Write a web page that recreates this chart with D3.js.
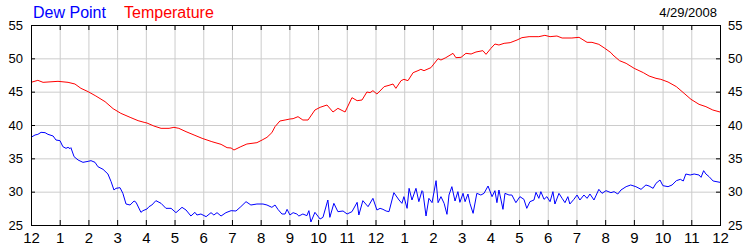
<!DOCTYPE html>
<html>
<head>
<meta charset="utf-8">
<title>Dew Point and Temperature</title>
<script src="https://d3js.org/d3.v7.min.js"></script>
<style>
    body { margin: 0; background: #fff; }
    svg { display: block; font-family: Arial, "Liberation Sans", sans-serif; }
    .grid line { stroke: #cccccc; stroke-width: 1; }
    .axis text { fill: #000; }
    .axis line { stroke: #000; }
</style>
</head>
<body>
<svg id="chart" width="750" height="250"></svg>
<script>
// readings: hour of day (0 = midnight) and degrees F
var tempHours = [0.00, 0.24, 0.42, 0.94, 1.29, 1.53, 1.74, 1.99, 2.26, 2.58, 2.86, 3.13, 3.48, 3.73, 3.94, 4.04,
    4.28, 4.53, 4.81, 4.98, 5.15, 5.40, 5.68, 5.96, 6.30, 6.62, 6.83, 6.97, 7.07, 7.31, 7.52, 7.87,
    8.05, 8.22, 8.39, 8.50, 8.67, 8.85, 9.02, 9.13, 9.30, 9.47, 9.65, 9.89, 10.07, 10.31, 10.52, 10.69,
    10.94, 11.18, 11.36, 11.53, 11.70, 11.81, 11.91, 12.05, 12.19, 12.30, 12.47, 12.61, 12.71, 12.89, 12.99, 13.13,
    13.31, 13.48, 13.58, 13.69, 13.93, 14.18, 14.28, 14.45, 14.70, 14.80, 14.98, 15.15, 15.33, 15.50, 15.74, 15.85,
    16.02, 16.16, 16.30, 16.48, 16.69, 16.93, 17.10, 17.35, 17.69, 17.90, 18.08, 18.32, 18.50, 18.84, 19.09, 19.37,
    19.54, 19.78, 19.99, 20.20, 20.27, 20.50, 20.73, 21.01, 21.33, 21.53, 21.77, 21.94, 22.19, 22.48, 22.75, 22.99,
    23.27, 23.51, 23.75, 24.00];
var tempValues = [46.4, 46.7, 46.4, 46.55, 46.4, 46.15, 45.5, 45.0, 44.35, 43.5, 42.45, 41.75, 41.1, 40.65, 40.4, 40.3,
    39.85, 39.5, 39.5, 39.65, 39.5, 39.0, 38.5, 38.0, 37.5, 37.1, 36.6, 36.55, 36.25, 36.75, 37.15, 37.35,
    37.75, 38.15, 38.85, 39.75, 40.6, 40.75, 40.9, 40.95, 41.25, 40.75, 40.75, 42.25, 42.65, 43.0, 41.95, 42.5,
    41.95, 44.1, 43.65, 43.75, 44.95, 44.85, 45.15, 44.65, 45.25, 45.75, 45.95, 46.15, 45.5, 46.65, 46.85, 46.65,
    47.85, 48.15, 48.35, 48.15, 48.6, 49.95, 49.75, 50.1, 50.75, 50.1, 50.15, 50.75, 50.65, 50.95, 51.15, 50.6,
    51.5, 52.15, 52.0, 52.25, 52.35, 52.75, 53.1, 53.25, 53.25, 53.45, 53.25, 53.35, 53.05, 53.05, 53.15, 52.4,
    52.4, 52.1, 51.5, 50.85, 50.5, 49.65, 49.25, 48.5, 47.85, 47.35, 47.0, 46.85, 46.45, 45.75, 44.75, 43.85,
    43.1, 42.75, 42.25, 41.95];

var dewHours = [0.00, 0.14, 0.24, 0.35, 0.49, 0.59, 0.77, 0.87, 1.01, 1.11, 1.22, 1.29, 1.36, 1.39, 1.50, 1.64,
    1.81, 1.99, 2.09, 2.23, 2.33, 2.51, 2.68, 2.79, 2.89, 2.96, 3.10, 3.20, 3.31, 3.45, 3.59, 3.66,
    3.83, 3.90, 4.04, 4.11, 4.21, 4.35, 4.53, 4.70, 4.88, 5.05, 5.26, 5.40, 5.57, 5.71, 5.78, 5.92,
    6.10, 6.27, 6.37, 6.48, 6.62, 6.79, 6.97, 7.14, 7.31, 7.49, 7.66, 7.87, 8.08, 8.22, 8.39, 8.50,
    8.60, 8.74, 8.85, 8.92, 9.02, 9.13, 9.26, 9.33, 9.47, 9.61, 9.68, 9.75, 9.89, 10.07, 10.17, 10.34,
    10.41, 10.55, 10.69, 10.87, 11.01, 11.18, 11.36, 11.42, 11.56, 11.74, 11.91, 12.05, 12.16, 12.26, 12.37, 12.47,
    12.64, 12.82, 12.92, 12.99, 13.10, 13.17, 13.27, 13.41, 13.51, 13.62, 13.65, 13.76, 13.86, 13.97, 14.11, 14.18,
    14.28, 14.39, 14.49, 14.56, 14.66, 14.77, 14.87, 14.94, 15.05, 15.12, 15.22, 15.29, 15.40, 15.53, 15.67, 15.78,
    15.92, 16.06, 16.16, 16.23, 16.30, 16.44, 16.51, 16.65, 16.75, 16.89, 17.03, 17.17, 17.27, 17.38, 17.52, 17.59,
    17.69, 17.76, 17.87, 17.97, 18.08, 18.18, 18.25, 18.39, 18.50, 18.60, 18.70, 18.77, 18.91, 19.02, 19.12, 19.26,
    19.37, 19.47, 19.61, 19.78, 19.89, 20.03, 20.20, 20.31, 20.44, 20.55, 20.73, 20.89, 21.07, 21.25, 21.42, 21.53,
    21.67, 21.77, 21.91, 22.01, 22.19, 22.33, 22.48, 22.62, 22.72, 22.81, 22.96, 23.10, 23.27, 23.34, 23.43, 23.51,
    23.62, 23.76, 24.00];
var dewValues = [38.15, 38.5, 38.6, 38.9, 38.85, 38.6, 38.35, 37.75, 37.65, 36.75, 36.5, 36.65, 36.45, 36.6, 35.25, 34.75,
    34.4, 34.55, 34.65, 34.4, 33.75, 33.35, 32.65, 31.5, 30.25, 30.5, 30.6, 29.75, 28.15, 28.0, 28.6, 28.4,
    26.9, 27.15, 27.4, 27.75, 28.0, 28.65, 28.25, 27.5, 27.5, 26.85, 27.65, 27.25, 26.35, 26.9, 26.5, 26.65,
    26.25, 26.85, 26.5, 26.85, 26.35, 26.85, 27.15, 27.1, 27.75, 28.5, 28.0, 28.15, 28.15, 28.0, 27.65, 28.0,
    27.35, 26.65, 26.65, 27.35, 26.5, 26.85, 26.65, 26.35, 26.65, 26.4, 27.15, 25.45, 26.9, 25.9, 26.15, 28.75,
    26.15, 28.25, 27.0, 27.1, 26.65, 27.0, 28.4, 26.5, 28.65, 27.75, 29.0, 27.25, 27.5, 27.35, 27.1, 27.0,
    29.85, 28.75, 28.25, 29.25, 27.5, 30.5, 28.75, 30.5, 28.5, 30.15, 30.0, 26.35, 29.0, 28.35, 31.65, 28.35,
    29.25, 28.25, 26.6, 29.5, 30.75, 28.6, 30.0, 28.4, 29.75, 28.5, 29.65, 28.25, 26.75, 29.75, 29.5, 29.75,
    30.85, 29.25, 30.15, 28.35, 30.25, 27.35, 29.75, 29.5, 29.5, 28.35, 29.25, 28.85, 27.5, 28.5, 28.75, 29.9,
    29.0, 30.0, 28.85, 29.25, 28.5, 30.0, 28.15, 29.75, 29.0, 28.35, 29.25, 28.15, 28.85, 29.5, 28.75, 29.5,
    29.0, 29.65, 28.75, 30.35, 29.75, 30.15, 29.85, 30.0, 29.65, 30.25, 30.75, 31.0, 30.75, 30.35, 31.0, 30.85,
    30.5, 31.25, 31.75, 30.9, 30.75, 31.0, 31.65, 31.85, 31.6, 32.65, 32.5, 32.65, 32.5, 32.15, 33.15, 32.65,
    32.25, 31.6, 31.4];

var hourLabels = ["12", "1", "2", "3", "4", "5", "6", "7", "8", "9", "10", "11",
    "12", "1", "2", "3", "4", "5", "6", "7", "8", "9", "10", "11", "12"];
var yTicks = [25, 30, 35, 40, 45, 50, 55];
var dateLabel = "4/29/2008";

var svg = d3.select("#chart");
var margin = { left: 31, top: 25, right: 30, bottom: 25 };
var W = 750, H = 250;
var plotW = W - margin.left - margin.right,
    plotH = H - margin.top - margin.bottom;

var x = d3.scaleLinear().domain([0, 24]).range([margin.left, margin.left + plotW]);
var y = d3.scaleLinear().domain([25, 55]).range([margin.top + plotH, margin.top]);

// grid
svg.append("g").attr("class", "grid")
    .attr("transform", "translate(0," + (margin.top + plotH) + ")")
    .call(d3.axisBottom(x).tickValues(d3.range(1, 24)).tickSize(-plotH).tickFormat(""))
    .call(function(g) { g.select(".domain").remove(); });
svg.append("g").attr("class", "grid")
    .attr("transform", "translate(" + margin.left + ",0)")
    .call(d3.axisLeft(y).tickValues(yTicks.slice(1, -1)).tickSize(-plotW).tickFormat(""))
    .call(function(g) { g.select(".domain").remove(); });

// lines
var line = d3.line()
    .x(function(d) { return x(d[0]); })
    .y(function(d) { return y(d[1]); });

svg.append("path")
    .datum(d3.zip(tempHours, tempValues))
    .attr("fill", "none")
    .attr("stroke", "#ff0000")
    .attr("stroke-width", 1)
    .attr("d", line);

svg.append("path")
    .datum(d3.zip(dewHours, dewValues))
    .attr("fill", "none")
    .attr("stroke", "#0000ff")
    .attr("stroke-width", 1)
    .attr("d", line);

// frame
svg.append("rect")
    .attr("x", margin.left + 0.5).attr("y", margin.top + 0.5)
    .attr("width", plotW).attr("height", plotH)
    .attr("fill", "none").attr("stroke", "#000").attr("stroke-width", 1);

// axes with inward ticks
function noDomain(g) { g.select(".domain").remove(); }

svg.append("g").attr("class", "axis")
    .attr("transform", "translate(0," + (margin.top + plotH) + ")")
    .call(d3.axisBottom(x).tickValues(d3.range(0, 25)).tickSize(-5).tickPadding(7)
        .tickFormat(function(d, i) { return hourLabels[i]; }))
    .call(noDomain)
    .selectAll("text").attr("font-size", 15).attr("font-family", "Arial, 'Liberation Sans', sans-serif");

svg.append("g").attr("class", "axis")
    .attr("transform", "translate(0," + margin.top + ")")
    .call(d3.axisTop(x).tickValues(d3.range(1, 24)).tickSize(-5).tickFormat(""))
    .call(noDomain);

svg.append("g").attr("class", "axis")
    .attr("transform", "translate(" + margin.left + ",0)")
    .call(d3.axisLeft(y).tickValues(yTicks).tickSize(-4).tickPadding(8))
    .call(noDomain)
    .selectAll("text").attr("font-size", 13).attr("font-family", "Arial, 'Liberation Sans', sans-serif");

svg.append("g").attr("class", "axis")
    .attr("transform", "translate(" + (margin.left + plotW) + ",0)")
    .call(d3.axisRight(y).tickValues(yTicks).tickSize(-4).tickPadding(8))
    .call(noDomain)
    .selectAll("text").attr("font-size", 13).attr("font-family", "Arial, 'Liberation Sans', sans-serif");

// legend and date
svg.append("text").attr("x", 33).attr("y", 18)
    .attr("font-size", 16).attr("fill", "#0000ff").text("Dew Point");
svg.append("text").attr("x", 124).attr("y", 18)
    .attr("font-size", 16).attr("fill", "#ff0000").text("Temperature");
svg.append("text").attr("x", 717).attr("y", 17)
    .attr("font-size", 13).attr("text-anchor", "end").attr("fill", "#000").text(dateLabel);
</script>
</body>
</html>
